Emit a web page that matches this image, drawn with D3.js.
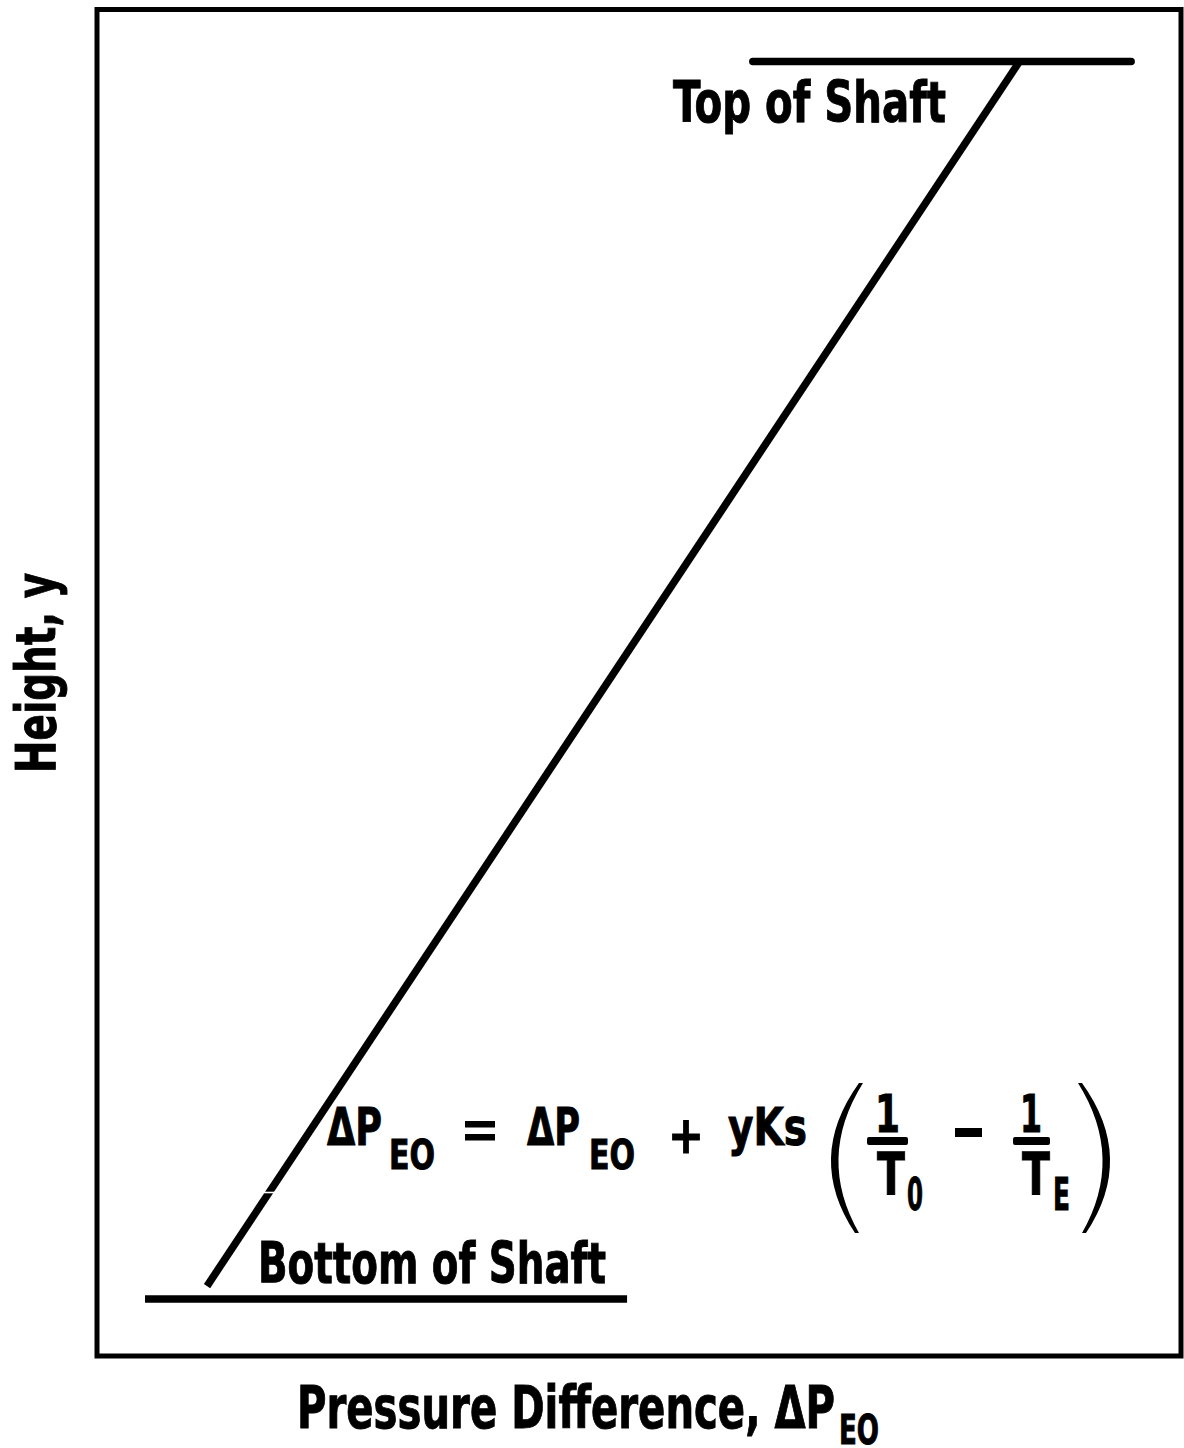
<!DOCTYPE html>
<html>
<head>
<meta charset="utf-8">
<script src="https://cdn.jsdelivr.net/npm/d3@7"></script>
<style>
  html, body { margin: 0; padding: 0; background: #fff; }
  svg { display: block; }
  text { font-family: "Liberation Sans Narrow", "Arial Narrow", "DejaVu Sans Condensed", sans-serif; font-weight: bold; fill: #000; stroke: #000; stroke-width: 0.9; }
</style>
</head>
<body>
<script>
// ---- data (arbitrary units: pressure difference 0..100, height 0..100) ----
const xDomain = [0, 100];
const yDomain = [-4.6, 104.2];
const pressureLine = [ { p: 10.15, h: 1.05 }, { p: 85.1, h: 100 } ];
const shaftTop = { p0: 60.5, p1: 95.4, h: 100 };
const shaftBottom = { p0: 4.43, p1: 48.9, h: 0 };
const labels = { top: "Top of Shaft", bottom: "Bottom of Shaft", x: "Pressure Difference, ", y: "Height, y" };

const W = 1184, H = 1448;
const svg = d3.select("body").append("svg").attr("width", W).attr("height", H);

const x = d3.scaleLinear().domain(xDomain).range([97, 1181]);
const y = d3.scaleLinear().domain(yDomain).range([1356, 9.5]);

// frame
svg.append("rect")
  .attr("x", x(xDomain[0])).attr("y", y(yDomain[1]))
  .attr("width", x(xDomain[1]) - x(xDomain[0]))
  .attr("height", y(yDomain[0]) - y(yDomain[1]))
  .attr("fill", "none").attr("stroke", "#000").attr("stroke-width", 5);

// shaft lines
svg.append("line")
  .attr("x1", x(shaftTop.p0)).attr("x2", x(shaftTop.p1))
  .attr("y1", y(shaftTop.h)).attr("y2", y(shaftTop.h))
  .attr("stroke", "#000").attr("stroke-width", 7.5).attr("stroke-linecap", "round");
svg.append("line")
  .attr("x1", x(shaftBottom.p0)).attr("x2", x(shaftBottom.p1))
  .attr("y1", y(shaftBottom.h)).attr("y2", y(shaftBottom.h))
  .attr("stroke", "#000").attr("stroke-width", 7.5);

// pressure line
const line = d3.line().x(d => x(d.p)).y(d => y(d.h));
svg.append("path").datum(pressureLine)
  .attr("d", line).attr("fill", "none")
  .attr("stroke", "#000").attr("stroke-width", 7.5);
// small scan break in the line
svg.append("line").attr("x1", 255).attr("x2", 277).attr("y1", 1192.5).attr("y2", 1192.5)
  .attr("stroke", "#fff").attr("stroke-width", 1.6);

function txt(str, xx, yy, size, len, opts = {}) {
  const t = svg.append("text").attr("x", xx).attr("y", yy)
    .attr("font-size", size).text(str);
  if (len) t.attr("textLength", len).attr("lengthAdjust", "spacingAndGlyphs");
  if (opts.anchor) t.attr("text-anchor", opts.anchor);
  if (opts.transform) t.attr("transform", opts.transform);
  return t;
}

// labels
txt(labels.top, 673, 122, 57, 273);
txt(labels.bottom, 258, 1283, 57, 348);

// x axis label
txt(labels.x + "\u0394P", 297, 1428, 58, 538);
txt("EO", 839, 1444, 40, 40);

// y axis label
txt(labels.y, 0, 0, 56, 200, { anchor: "middle", transform: "translate(55,673) rotate(-90)" });

// equation
txt("\u0394P", 327, 1145, 52, 55);
txt("EO", 389, 1169, 40, 46);
svg.append("rect").attr("x", 465).attr("y", 1121).attr("width", 30).attr("height", 6.5);
svg.append("rect").attr("x", 465).attr("y", 1134).attr("width", 30).attr("height", 6.5);
txt("\u0394P", 527, 1145, 52, 53);
txt("EO", 589, 1169, 40, 46);
txt("+", 668, 1153, 52, 36);
txt("yKs", 728, 1145, 52, 79);

// parentheses
svg.append("path").attr("d", "M863,1083 Q816,1158 859,1233 L855,1233 Q805,1158 859,1083 Z").attr("fill", "#000");
svg.append("path").attr("d", "M1078,1083 Q1125,1158 1082,1233 L1086,1233 Q1136,1158 1082,1083 Z").attr("fill", "#000");

// first fraction
txt("1", 875, 1132, 52, 25);
svg.append("rect").attr("x", 867).attr("y", 1137).attr("width", 41).attr("height", 8).attr("rx", 2);
txt("T", 877, 1195, 58, 28);
txt("0", 907, 1210, 44, 16);
// minus
svg.append("rect").attr("x", 955).attr("y", 1128).attr("width", 27).attr("height", 9);
// second fraction
txt("1", 1020, 1132, 52, 22);
svg.append("rect").attr("x", 1013).attr("y", 1137).attr("width", 37).attr("height", 8).attr("rx", 2);
txt("T", 1022, 1195, 58, 28);
txt("E", 1053, 1210, 44, 17);
</script>
</body>
</html>
